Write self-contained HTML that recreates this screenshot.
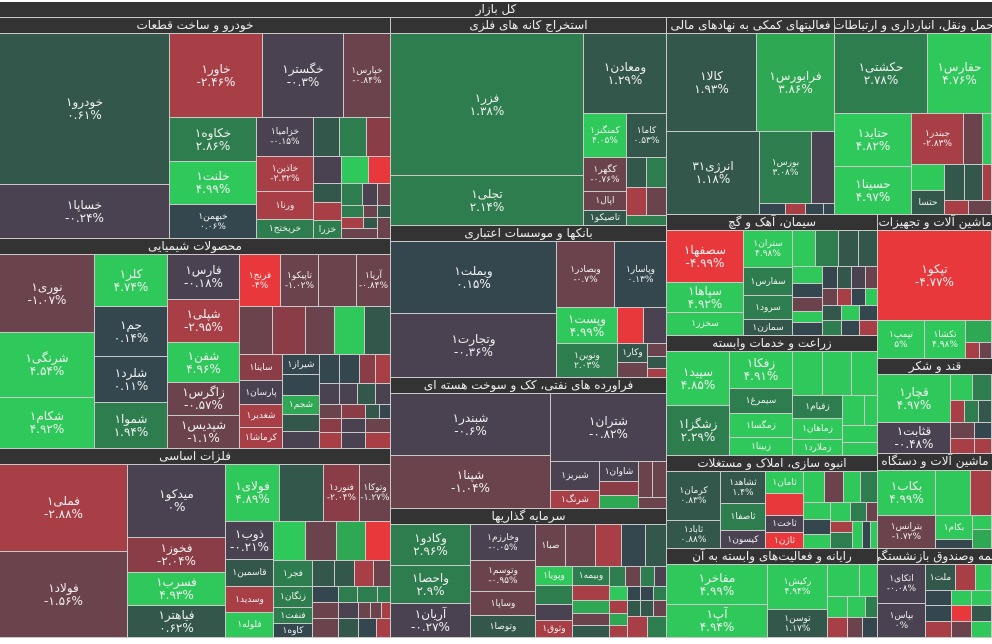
<!DOCTYPE html>
<html><head><meta charset="utf-8">
<style>
body{margin:0;background:#fff;}
#w{position:relative;width:992px;height:644px;background:#fff;overflow:hidden;font-family:"DejaVu Sans","Liberation Sans","Noto Sans CJK SC",sans-serif;}
.b{position:absolute;box-sizing:border-box;border-right:1px solid #c8c8c8;border-bottom:1px solid #c8c8c8;color:#f0f0f0;display:flex;flex-direction:column;align-items:center;justify-content:center;text-align:center;font-size:12px;line-height:13px;overflow:hidden;white-space:nowrap;}
.h{position:absolute;box-sizing:border-box;background:#333;color:#eee;border-right:1px solid #c8c8c8;border-bottom:1px solid #c8c8c8;font-size:12px;line-height:15px;display:flex;justify-content:center;overflow:hidden;white-space:nowrap;direction:rtl;}
.s10{font-size:9px;line-height:10px}
.g1{background:#33574b}.g2{background:#2e7d4f}.g3{background:#2ec95a}.g4{background:#2ea852}
.sl{background:#34474f}.p{background:#4a4250}.r1{background:#6a434c}.r2{background:#a83f47}.r3{background:#e8383b}.r4{background:#8a3d46}
</style></head><body><div id="w">
<div class="h" style="left:0;top:2px;width:992px;height:16px;border-right:0">کل بازار</div>

<!-- خودرو -->
<div class="h" style="left:0;top:18px;width:391px;height:16px">خودرو و ساخت قطعات</div>
<div class="b g1" style="left:0;top:34px;width:170px;height:151px"><span>خودرو۱</span><span>۰.۶۱%</span></div>
<div class="b p" style="left:0;top:185px;width:170px;height:54px"><span>خساپا۱</span><span>-۰.۲۴%</span></div>
<div class="b r2" style="left:170px;top:34px;width:93px;height:84px"><span>خاور۱</span><span>-۲.۴۶%</span></div>
<div class="b p" style="left:263px;top:34px;width:81px;height:84px"><span>خگستر۱</span><span>-۰.۳%</span></div>
<div class="b r1 s10" style="left:344px;top:34px;width:47px;height:84px"><span>خپارس۱</span><span>-۰.۸۴%</span></div>
<div class="b g2" style="left:170px;top:118px;width:87px;height:44px"><span>خکاوه۱</span><span>۲.۸۶%</span></div>
<div class="b g3" style="left:170px;top:162px;width:87px;height:43px"><span>خلنت۱</span><span>۴.۹۹%</span></div>
<div class="b sl s10" style="left:170px;top:205px;width:87px;height:34px"><span>خبهمن۱</span><span>۰.۰۶%</span></div>
<div class="b p s10" style="left:257px;top:118px;width:57px;height:39px"><span>خزامیا۱</span><span>-۰.۱۵%</span></div>
<div class="b r2 s10" style="left:257px;top:157px;width:57px;height:35px"><span>خاذین۱</span><span>-۲.۳۲%</span></div>
<div class="b r2 s10" style="left:257px;top:192px;width:57px;height:28px"><span>ورنا۱</span></div>
<div class="b g2 s10" style="left:257px;top:220px;width:57px;height:19px"><span>خریختج۱</span></div>
<div class="b g1" style="left:314px;top:118px;width:26px;height:39px"></div>
<div class="b g2" style="left:340px;top:118px;width:27px;height:39px"></div>
<div class="b r4" style="left:367px;top:118px;width:24px;height:39px"></div>
<div class="b p" style="left:314px;top:157px;width:28px;height:27px"></div>
<div class="b g3" style="left:342px;top:157px;width:27px;height:27px"></div>
<div class="b r3" style="left:369px;top:157px;width:22px;height:27px"></div>
<div class="b g1" style="left:314px;top:184px;width:28px;height:19px"></div>
<div class="b r2" style="left:314px;top:203px;width:28px;height:18px"></div>
<div class="b g2 s10" style="left:314px;top:221px;width:28px;height:18px">خزرا</div>
<div class="b g2" style="left:342px;top:184px;width:21px;height:22px"></div>
<div class="b p" style="left:363px;top:184px;width:15px;height:22px"></div>
<div class="b r1" style="left:378px;top:184px;width:13px;height:22px"></div>
<div class="b g2" style="left:342px;top:206px;width:22px;height:12px"></div>
<div class="b r1" style="left:364px;top:206px;width:14px;height:12px"></div>
<div class="b g1" style="left:378px;top:206px;width:13px;height:12px"></div>
<div class="b r2" style="left:342px;top:218px;width:22px;height:11px"></div>
<div class="b g1" style="left:364px;top:218px;width:14px;height:11px"></div>
<div class="b r1" style="left:378px;top:218px;width:13px;height:21px"></div>
<div class="b r1" style="left:342px;top:229px;width:36px;height:10px"></div>

<!-- شیمیایی -->
<div class="h" style="left:0;top:239px;width:391px;height:16px">محصولات شیمیایی</div>
<div class="b r1" style="left:0;top:255px;width:95px;height:78px"><span>نوری۱</span><span>-۱.۰۷%</span></div>
<div class="b g3" style="left:0;top:333px;width:95px;height:65px"><span>شرنگی۱</span><span>۴.۵۴%</span></div>
<div class="b g3" style="left:0;top:398px;width:95px;height:51px"><span>شکام۱</span><span>۴.۹۲%</span></div>
<div class="b g3" style="left:95px;top:255px;width:73px;height:52px"><span>کلر۱</span><span>۴.۷۴%</span></div>
<div class="b sl" style="left:95px;top:307px;width:73px;height:50px"><span>جم۱</span><span>۰.۱۴%</span></div>
<div class="b sl" style="left:95px;top:357px;width:73px;height:46px"><span>شلرد۱</span><span>۰.۱۱%</span></div>
<div class="b g2" style="left:95px;top:403px;width:73px;height:46px"><span>شموا۱</span><span>۱.۹۴%</span></div>
<div class="b p" style="left:168px;top:255px;width:72px;height:45px"><span>فارس۱</span><span>-۰.۱۸%</span></div>
<div class="b r2" style="left:168px;top:300px;width:72px;height:43px"><span>شپلی۱</span><span>-۲.۹۵%</span></div>
<div class="b g3" style="left:168px;top:343px;width:72px;height:40px"><span>شفن۱</span><span>۴.۹۶%</span></div>
<div class="b r1" style="left:168px;top:383px;width:72px;height:33px"><span>زاگرس۱</span><span>-۰.۵۷%</span></div>
<div class="b r1" style="left:168px;top:416px;width:72px;height:33px"><span>شپدیس۱</span><span>-۱.۱%</span></div>
<div class="b r3 s10" style="left:240px;top:255px;width:41px;height:52px"><span>فرنج۱</span><span>-۴%</span></div>
<div class="b r1 s10" style="left:281px;top:255px;width:38px;height:52px"><span>تاپیکو۱</span><span>-۱.۰۲%</span></div>
<div class="b r1" style="left:319px;top:255px;width:38px;height:52px"></div>
<div class="b r1 s10" style="left:357px;top:255px;width:34px;height:52px"><span>آریا۱</span><span>-۰.۸۴%</span></div>
<div class="b r1" style="left:240px;top:307px;width:33px;height:48px"></div>
<div class="b r4" style="left:273px;top:307px;width:33px;height:48px"></div>
<div class="b r1" style="left:306px;top:307px;width:29px;height:48px"></div>
<div class="b g3" style="left:335px;top:307px;width:30px;height:48px"></div>
<div class="b g1" style="left:365px;top:307px;width:26px;height:48px"></div>
<div class="b r4 s10" style="left:240px;top:355px;width:43px;height:26px">ساینا۱</div>
<div class="b p s10" style="left:240px;top:381px;width:43px;height:24px">پارسان۱</div>
<div class="b r2 s10" style="left:240px;top:405px;width:43px;height:23px">شغدیر۱</div>
<div class="b r2 s10" style="left:240px;top:428px;width:43px;height:21px">کرماشا۱</div>
<div class="b sl s10" style="left:283px;top:355px;width:37px;height:20px">شیراز۱</div>
<div class="b sl" style="left:283px;top:375px;width:37px;height:21px"></div>
<div class="b g4 s10" style="left:283px;top:396px;width:37px;height:19px">شجم۱</div>
<div class="b g1" style="left:283px;top:415px;width:37px;height:17px"></div>
<div class="b p" style="left:283px;top:432px;width:37px;height:17px"></div>
<div class="b sl" style="left:320px;top:355px;width:20px;height:29px"></div>
<div class="b sl" style="left:340px;top:355px;width:20px;height:29px"></div>
<div class="b r4" style="left:360px;top:355px;width:16px;height:29px"></div>
<div class="b r2" style="left:376px;top:355px;width:15px;height:29px"></div>
<div class="b p" style="left:320px;top:384px;width:20px;height:21px"></div>
<div class="b p" style="left:340px;top:384px;width:18px;height:21px"></div>
<div class="b g1" style="left:358px;top:384px;width:18px;height:21px"></div>
<div class="b p" style="left:376px;top:384px;width:15px;height:21px"></div>
<div class="b r1" style="left:320px;top:405px;width:22px;height:14px"></div>
<div class="b r4" style="left:342px;top:405px;width:24px;height:14px"></div>
<div class="b g1" style="left:366px;top:405px;width:14px;height:14px"></div>
<div class="b sl" style="left:380px;top:405px;width:11px;height:14px"></div>
<div class="b r4" style="left:320px;top:419px;width:22px;height:14px"></div>
<div class="b p" style="left:342px;top:419px;width:24px;height:14px"></div>
<div class="b r1" style="left:366px;top:419px;width:25px;height:14px"></div>
<div class="b r2" style="left:320px;top:433px;width:22px;height:16px"></div>
<div class="b p" style="left:342px;top:433px;width:24px;height:16px"></div>
<div class="b r2" style="left:366px;top:433px;width:25px;height:16px"></div>

<!-- فلزات -->
<div class="h" style="left:0;top:449px;width:391px;height:16px">فلزات اساسی</div>
<div class="b r2" style="left:0;top:465px;width:128px;height:87px"><span>فملی۱</span><span>-۲.۸۸%</span></div>
<div class="b r1" style="left:0;top:552px;width:128px;height:86px"><span>فولاد۱</span><span>-۱.۵۶%</span></div>
<div class="b p" style="left:128px;top:465px;width:98px;height:73px"><span>میدکو۱</span><span>۰%</span></div>
<div class="b r4" style="left:128px;top:538px;width:98px;height:35px"><span>فخوز۱</span><span>-۲.۰۴%</span></div>
<div class="b g3" style="left:128px;top:573px;width:98px;height:33px"><span>فسرب۱</span><span>۴.۹۳%</span></div>
<div class="b g1" style="left:128px;top:606px;width:98px;height:32px"><span>فیاهتر۱</span><span>۰.۶۲%</span></div>
<div class="b g3" style="left:226px;top:465px;width:54px;height:57px"><span>فولای۱</span><span>۴.۸۹%</span></div>
<div class="b g1" style="left:280px;top:465px;width:44px;height:57px"></div>
<div class="b r4 s10" style="left:324px;top:465px;width:36px;height:57px"><span>فنورد۱</span><span>-۲.۰۴%</span></div>
<div class="b r1 s10" style="left:360px;top:465px;width:31px;height:57px"><span>وتوکا۱</span><span>-۱.۲۷%</span></div>
<div class="b p" style="left:226px;top:522px;width:48px;height:38px"><span>ذوب۱</span><span>-۰.۲۱%</span></div>
<div class="b g1 s10" style="left:226px;top:560px;width:48px;height:27px">قاسمین۱</div>
<div class="b r2 s10" style="left:226px;top:587px;width:48px;height:26px">وسدید۱</div>
<div class="b g3 s10" style="left:226px;top:613px;width:48px;height:25px">فلوله۱</div>
<div class="b g3" style="left:274px;top:522px;width:32px;height:39px"></div>
<div class="b r1" style="left:306px;top:522px;width:31px;height:39px"></div>
<div class="b g4" style="left:337px;top:522px;width:29px;height:39px"></div>
<div class="b r3" style="left:366px;top:522px;width:25px;height:39px"></div>
<div class="b g2 s10" style="left:274px;top:561px;width:39px;height:26px">فجر۱</div>
<div class="b g2 s10" style="left:274px;top:587px;width:39px;height:21px">زنگان۱</div>
<div class="b g2 s10" style="left:274px;top:608px;width:39px;height:16px">فنفت۱</div>
<div class="b sl s10" style="left:274px;top:624px;width:39px;height:14px">کاوه۱</div>
<div class="b g1" style="left:313px;top:561px;width:22px;height:26px"></div>
<div class="b g1" style="left:335px;top:561px;width:20px;height:26px"></div>
<div class="b r2" style="left:355px;top:561px;width:19px;height:26px"></div>
<div class="b r1" style="left:374px;top:561px;width:17px;height:26px"></div>
<div class="b sl" style="left:313px;top:587px;width:26px;height:16px"></div>
<div class="b g2" style="left:339px;top:587px;width:19px;height:16px"></div>
<div class="b g2" style="left:358px;top:587px;width:20px;height:16px"></div>
<div class="b g2" style="left:378px;top:587px;width:13px;height:16px"></div>
<div class="b r1" style="left:313px;top:603px;width:26px;height:16px"></div>
<div class="b p" style="left:339px;top:603px;width:20px;height:16px"></div>
<div class="b r1" style="left:359px;top:603px;width:12px;height:16px"></div>
<div class="b r1" style="left:371px;top:603px;width:11px;height:16px"></div>
<div class="b r2" style="left:382px;top:603px;width:9px;height:16px"></div>
<div class="b r1" style="left:313px;top:619px;width:26px;height:19px"></div>
<div class="b g1" style="left:339px;top:619px;width:20px;height:19px"></div>
<div class="b sl" style="left:359px;top:619px;width:18px;height:19px"></div>
<div class="b r2" style="left:377px;top:619px;width:14px;height:19px"></div>

<!-- استخراج -->
<div class="h" style="left:391px;top:18px;width:276px;height:16px">استخراج کانه های فلزی</div>
<div class="b g2" style="left:391px;top:34px;width:193px;height:142px"><span>فزر۱</span><span>۱.۳۸%</span></div>
<div class="b g2" style="left:391px;top:176px;width:193px;height:50px"><span>تجلی۱</span><span>۲.۱۴%</span></div>
<div class="b g1" style="left:584px;top:34px;width:83px;height:80px"><span>ومعادن۱</span><span>۱.۲۹%</span></div>
<div class="b g3 s10" style="left:584px;top:114px;width:43px;height:44px"><span>کمنگنز۱</span><span>۴.۰۵%</span></div>
<div class="b g1 s10" style="left:627px;top:114px;width:40px;height:44px"><span>کاما۱</span><span>۰.۵۳%</span></div>
<div class="b r1 s10" style="left:584px;top:158px;width:43px;height:34px"><span>کگهر۱</span><span>-۰.۷۶%</span></div>
<div class="b r1 s10" style="left:584px;top:192px;width:43px;height:19px">اپال۱</div>
<div class="b g1 s10" style="left:584px;top:211px;width:43px;height:15px">تاصیکو۱</div>
<div class="b g1" style="left:627px;top:158px;width:20px;height:30px"></div>
<div class="b g2" style="left:647px;top:158px;width:20px;height:30px"></div>
<div class="b r2" style="left:627px;top:188px;width:20px;height:28px"></div>
<div class="b r1" style="left:647px;top:188px;width:20px;height:28px"></div>
<div class="b g2" style="left:627px;top:216px;width:40px;height:10px"></div>

<!-- بانکها -->
<div class="h" style="left:391px;top:226px;width:276px;height:16px">بانکها و موسسات اعتباری</div>
<div class="b sl" style="left:391px;top:242px;width:166px;height:72px"><span>وبملت۱</span><span>۰.۱۵%</span></div>
<div class="b p" style="left:391px;top:314px;width:166px;height:64px"><span>وتجارت۱</span><span>-۰.۳۶%</span></div>
<div class="b r1 s10" style="left:557px;top:242px;width:58px;height:66px"><span>وبصادر۱</span><span>-۰.۷%</span></div>
<div class="b sl s10" style="left:615px;top:242px;width:52px;height:66px"><span>وپاسار۱</span><span>۰.۱۳%</span></div>
<div class="b g3" style="left:557px;top:308px;width:61px;height:36px"><span>وپست۱</span><span>۴.۹۹%</span></div>
<div class="b g2 s10" style="left:557px;top:344px;width:61px;height:34px"><span>ونوین۱</span><span>۲.۰۳%</span></div>
<div class="b r3" style="left:618px;top:308px;width:26px;height:36px"></div>
<div class="b p" style="left:644px;top:308px;width:23px;height:36px"></div>
<div class="b g1 s10" style="left:618px;top:344px;width:30px;height:19px">وکار۱</div>
<div class="b r1" style="left:618px;top:363px;width:30px;height:15px"></div>
<div class="b r1" style="left:648px;top:344px;width:19px;height:13px"></div>
<div class="b g1" style="left:648px;top:357px;width:19px;height:12px"></div>
<div class="b r2" style="left:648px;top:369px;width:19px;height:9px"></div>

<!-- پالایش -->
<div class="h" style="left:391px;top:378px;width:276px;height:16px">فراورده های نفتی، کک و سوخت هسته ای</div>
<div class="b p" style="left:391px;top:394px;width:160px;height:62px"><span>شبندر۱</span><span>-۰.۶%</span></div>
<div class="b r1" style="left:391px;top:456px;width:160px;height:53px"><span>شپنا۱</span><span>-۱.۰۴%</span></div>
<div class="b p" style="left:551px;top:394px;width:116px;height:68px"><span>شتران۱</span><span>-۰.۸۲%</span></div>
<div class="b p s10" style="left:551px;top:462px;width:49px;height:29px">شبریز۱</div>
<div class="b r2 s10" style="left:551px;top:491px;width:49px;height:18px">شرنگ۱</div>
<div class="b p s10" style="left:600px;top:462px;width:39px;height:20px">شاوان۱</div>
<div class="b r4" style="left:600px;top:482px;width:39px;height:14px"></div>
<div class="b g4" style="left:600px;top:496px;width:39px;height:13px"></div>
<div class="b r1" style="left:639px;top:462px;width:14px;height:36px"></div>
<div class="b r1" style="left:653px;top:462px;width:14px;height:36px"></div>
<div class="b r1" style="left:639px;top:498px;width:28px;height:11px"></div>

<!-- سرمایه -->
<div class="h" style="left:391px;top:509px;width:276px;height:16px">سرمایه گذاریها</div>
<div class="b g2" style="left:391px;top:525px;width:80px;height:41px"><span>وکادو۱</span><span>۲.۹۶%</span></div>
<div class="b g2" style="left:391px;top:566px;width:80px;height:38px"><span>واحصا۱</span><span>۲.۹%</span></div>
<div class="b p" style="left:391px;top:604px;width:80px;height:34px"><span>آریان۱</span><span>-۰.۲۷%</span></div>
<div class="b p s10" style="left:471px;top:525px;width:65px;height:36px"><span>وخارزم۱</span><span>-۰.۰۵%</span></div>
<div class="b r1 s10" style="left:471px;top:561px;width:65px;height:31px"><span>وتوسم۱</span><span>-۰.۹۵%</span></div>
<div class="b r1 s10" style="left:471px;top:592px;width:65px;height:24px">وساپا۱</div>
<div class="b g1 s10" style="left:471px;top:616px;width:65px;height:22px">وتوصا۱</div>
<div class="b r1 s10" style="left:536px;top:525px;width:30px;height:42px"><span>صبا۱</span></div>
<div class="b r1" style="left:566px;top:525px;width:30px;height:42px"></div>
<div class="b r2" style="left:596px;top:525px;width:26px;height:42px"></div>
<div class="b sl" style="left:622px;top:525px;width:24px;height:42px"></div>
<div class="b g1" style="left:646px;top:525px;width:21px;height:42px"></div>
<div class="b g3 s10" style="left:536px;top:567px;width:37px;height:19px">وپویا۱</div>
<div class="b g2 s10" style="left:573px;top:567px;width:37px;height:19px">وبیمه۱</div>
<div class="b g2" style="left:536px;top:586px;width:37px;height:19px"></div>
<div class="b p" style="left:536px;top:605px;width:37px;height:16px"></div>
<div class="b r2 s10" style="left:536px;top:621px;width:37px;height:17px">وثوق۱</div>
<div class="b r2" style="left:573px;top:586px;width:37px;height:15px"></div>
<div class="b g4" style="left:573px;top:601px;width:37px;height:13px"></div>
<div class="b r1" style="left:573px;top:614px;width:37px;height:12px"></div>
<div class="b g1" style="left:573px;top:626px;width:37px;height:12px"></div>
<div class="b g2" style="left:610px;top:567px;width:16px;height:20px"></div>
<div class="b r1" style="left:626px;top:567px;width:15px;height:20px"></div>
<div class="b g2" style="left:641px;top:567px;width:14px;height:20px"></div>
<div class="b p" style="left:655px;top:567px;width:12px;height:20px"></div>
<div class="b g3" style="left:610px;top:587px;width:18px;height:14px"></div>
<div class="b sl" style="left:628px;top:587px;width:13px;height:14px"></div>
<div class="b sl" style="left:641px;top:587px;width:13px;height:14px"></div>
<div class="b g2" style="left:654px;top:587px;width:13px;height:14px"></div>
<div class="b r2" style="left:610px;top:601px;width:18px;height:13px"></div>
<div class="b g4" style="left:610px;top:614px;width:18px;height:12px"></div>
<div class="b r2" style="left:610px;top:626px;width:18px;height:12px"></div>
<div class="b g1" style="left:628px;top:601px;width:13px;height:16px"></div>
<div class="b g1" style="left:641px;top:601px;width:13px;height:16px"></div>
<div class="b r1" style="left:654px;top:601px;width:13px;height:16px"></div>
<div class="b r2" style="left:628px;top:617px;width:20px;height:21px"></div>
<div class="b g2" style="left:648px;top:617px;width:19px;height:21px"></div>

<!-- فعالیتهای کمکی -->
<div class="h" style="left:667px;top:18px;width:168px;height:16px">فعالیتهای کمکی به نهادهای مالی</div>
<div class="b g1" style="left:667px;top:34px;width:90px;height:98px"><span>کالا۱</span><span>۱.۹۳%</span></div>
<div class="b g4" style="left:757px;top:34px;width:78px;height:98px"><span>فرابورس۱</span><span>۳.۸۶%</span></div>
<div class="b g1" style="left:667px;top:132px;width:93px;height:83px"><span>انرژی۳۱</span><span>۱.۱۸%</span></div>
<div class="b g2 s10" style="left:760px;top:132px;width:52px;height:72px"><span>بورس۱</span><span>۳.۰۸%</span></div>
<div class="b p" style="left:812px;top:132px;width:23px;height:72px"></div>
<div class="b sl" style="left:760px;top:204px;width:26px;height:11px"></div>
<div class="b r2" style="left:786px;top:204px;width:20px;height:11px"></div>
<div class="b sl" style="left:806px;top:204px;width:18px;height:11px"></div>
<div class="b sl" style="left:824px;top:204px;width:11px;height:11px"></div>

<!-- حمل -->
<div class="h" style="left:835px;top:18px;width:157px;height:16px;border-right:0">حمل ونقل، انبارداری و ارتباطات</div>
<div class="b g2" style="left:835px;top:34px;width:93px;height:80px"><span>حکشتی۱</span><span>۲.۷۸%</span></div>
<div class="b g3" style="left:928px;top:34px;width:64px;height:80px"><span>حفارس۱</span><span>۴.۷۶%</span></div>
<div class="b g3" style="left:835px;top:114px;width:77px;height:53px"><span>حتاید۱</span><span>۴.۸۲%</span></div>
<div class="b g3" style="left:835px;top:167px;width:77px;height:48px"><span>حسینا۱</span><span>۴.۹۷%</span></div>
<div class="b r2 s10" style="left:912px;top:114px;width:52px;height:51px"><span>جبندر۱</span><span>-۲.۸۳%</span></div>
<div class="b r1" style="left:964px;top:114px;width:19px;height:51px"></div>
<div class="b g3" style="left:983px;top:114px;width:9px;height:51px"></div>
<div class="b g3" style="left:912px;top:165px;width:33px;height:26px"></div>
<div class="b g1 s10" style="left:912px;top:191px;width:33px;height:24px">حتسا</div>
<div class="b g1" style="left:945px;top:165px;width:20px;height:36px"></div>
<div class="b g1" style="left:965px;top:165px;width:18px;height:36px"></div>
<div class="b r2" style="left:983px;top:165px;width:9px;height:36px"></div>
<div class="b r2" style="left:945px;top:201px;width:24px;height:14px"></div>
<div class="b r1" style="left:969px;top:201px;width:23px;height:14px"></div>

<!-- سیمان -->
<div class="h" style="left:667px;top:215px;width:211px;height:16px">سیمان، آهک و گچ</div>
<div class="b r3" style="left:667px;top:231px;width:77px;height:52px"><span>سصفها۱</span><span>-۴.۹۹%</span></div>
<div class="b g3" style="left:667px;top:283px;width:77px;height:30px"><span>سپاها۱</span><span>۴.۹۲%</span></div>
<div class="b g3 s10" style="left:667px;top:313px;width:77px;height:23px">سخزر۱</div>
<div class="b g3 s10" style="left:744px;top:231px;width:49px;height:37px"><span>ستران۱</span><span>۴.۹۸%</span></div>
<div class="b g2 s10" style="left:744px;top:268px;width:49px;height:28px">سفارس۱</div>
<div class="b g2 s10" style="left:744px;top:296px;width:49px;height:24px">سرود۱</div>
<div class="b g1 s10" style="left:744px;top:320px;width:49px;height:16px">سمازن۱</div>
<div class="b g3" style="left:793px;top:231px;width:23px;height:36px"></div>
<div class="b g2" style="left:816px;top:231px;width:23px;height:36px"></div>
<div class="b g1" style="left:839px;top:231px;width:20px;height:36px"></div>
<div class="b g1" style="left:859px;top:231px;width:19px;height:36px"></div>
<div class="b g3" style="left:793px;top:267px;width:30px;height:17px"></div>
<div class="b sl" style="left:793px;top:284px;width:30px;height:14px"></div>
<div class="b r1" style="left:793px;top:298px;width:30px;height:14px"></div>
<div class="b g3" style="left:793px;top:312px;width:30px;height:11px"></div>
<div class="b sl" style="left:793px;top:323px;width:30px;height:13px"></div>
<div class="b sl" style="left:823px;top:267px;width:15px;height:22px"></div>
<div class="b g1" style="left:838px;top:267px;width:14px;height:22px"></div>
<div class="b p" style="left:852px;top:267px;width:14px;height:22px"></div>
<div class="b r1" style="left:866px;top:267px;width:12px;height:22px"></div>
<div class="b r1" style="left:823px;top:289px;width:15px;height:17px"></div>
<div class="b r2" style="left:838px;top:289px;width:14px;height:17px"></div>
<div class="b sl" style="left:852px;top:289px;width:14px;height:17px"></div>
<div class="b g3" style="left:866px;top:289px;width:12px;height:17px"></div>
<div class="b g1" style="left:823px;top:306px;width:19px;height:15px"></div>
<div class="b g3" style="left:842px;top:306px;width:18px;height:15px"></div>
<div class="b sl" style="left:860px;top:306px;width:18px;height:15px"></div>
<div class="b g2" style="left:823px;top:321px;width:19px;height:15px"></div>
<div class="b sl" style="left:842px;top:321px;width:18px;height:15px"></div>
<div class="b r2" style="left:860px;top:321px;width:18px;height:15px"></div>

<!-- زراعت -->
<div class="h" style="left:667px;top:336px;width:211px;height:16px">زراعت و خدمات وابسته</div>
<div class="b g3" style="left:667px;top:352px;width:63px;height:54px"><span>سپید۱</span><span>۴.۸۵%</span></div>
<div class="b g2" style="left:667px;top:406px;width:63px;height:50px"><span>زشگزا۱</span><span>۲.۲۹%</span></div>
<div class="b g3" style="left:730px;top:352px;width:63px;height:37px"><span>زفکا۱</span><span>۴.۹۱%</span></div>
<div class="b g2 s10" style="left:730px;top:389px;width:63px;height:25px">سیمرغ۱</div>
<div class="b g3 s10" style="left:730px;top:414px;width:63px;height:24px">زمگسا۱</div>
<div class="b g3 s10" style="left:730px;top:438px;width:63px;height:18px">زبینا۱</div>
<div class="b g3" style="left:793px;top:352px;width:30px;height:44px"></div>
<div class="b g3" style="left:823px;top:352px;width:29px;height:44px"></div>
<div class="b g3" style="left:852px;top:352px;width:26px;height:44px"></div>
<div class="b g2 s10" style="left:793px;top:396px;width:50px;height:23px">زقیام۱</div>
<div class="b g3 s10" style="left:793px;top:419px;width:50px;height:21px">زماهان۱</div>
<div class="b g3 s10" style="left:793px;top:440px;width:50px;height:16px">زملارد۱</div>
<div class="b g3" style="left:843px;top:396px;width:22px;height:30px"></div>
<div class="b g3" style="left:865px;top:396px;width:13px;height:30px"></div>
<div class="b g3" style="left:843px;top:426px;width:35px;height:17px"></div>
<div class="b g3" style="left:843px;top:443px;width:35px;height:13px"></div>

<!-- ماشین آلات و تجهیزات -->
<div class="h" style="left:878px;top:215px;width:114px;height:16px;border-right:0">ماشین آلات و تجهیزات</div>
<div class="b r3" style="left:878px;top:231px;width:114px;height:90px"><span>تپکو۱</span><span>-۴.۷۷%</span></div>
<div class="b g3 s10" style="left:878px;top:321px;width:47px;height:38px"><span>تپمپ۱</span><span>۵%</span></div>
<div class="b g3 s10" style="left:925px;top:321px;width:41px;height:38px"><span>تکشا۱</span><span>۴.۹۸%</span></div>
<div class="b g4" style="left:966px;top:321px;width:26px;height:22px"></div>
<div class="b r2" style="left:966px;top:343px;width:14px;height:16px"></div>
<div class="b r1" style="left:980px;top:343px;width:12px;height:16px"></div>

<!-- قند -->
<div class="h" style="left:878px;top:359px;width:114px;height:16px;border-right:0">قند و شکر</div>
<div class="b g3" style="left:878px;top:375px;width:73px;height:48px"><span>قچار۱</span><span>۴.۹۷%</span></div>
<div class="b p" style="left:878px;top:423px;width:73px;height:31px"><span>قثابت۱</span><span>-۰.۴۸%</span></div>
<div class="b g3" style="left:951px;top:375px;width:22px;height:26px"></div>
<div class="b g2" style="left:973px;top:375px;width:19px;height:26px"></div>
<div class="b r2" style="left:951px;top:401px;width:14px;height:22px"></div>
<div class="b g2" style="left:965px;top:401px;width:14px;height:22px"></div>
<div class="b g1" style="left:979px;top:401px;width:13px;height:22px"></div>
<div class="b r1" style="left:951px;top:423px;width:24px;height:16px"></div>
<div class="b sl" style="left:975px;top:423px;width:17px;height:16px"></div>
<div class="b r2" style="left:951px;top:439px;width:24px;height:15px"></div>
<div class="b r2" style="left:975px;top:439px;width:17px;height:15px"></div>

<!-- انبوه سازی -->
<div class="h" style="left:667px;top:456px;width:211px;height:16px">انبوه سازی، املاک و مستغلات</div>
<div class="b g1 s10" style="left:667px;top:472px;width:54px;height:49px"><span>کرمان۱</span><span>۰.۸۳%</span></div>
<div class="b g1 s10" style="left:667px;top:521px;width:54px;height:28px"><span>ثاباد۱</span><span>۰.۸۸%</span></div>
<div class="b g1 s10" style="left:721px;top:472px;width:45px;height:32px"><span>ثشاهد۱</span><span>۱.۴%</span></div>
<div class="b g2 s10" style="left:721px;top:504px;width:45px;height:27px">ثاصفا۱</div>
<div class="b p s10" style="left:721px;top:531px;width:45px;height:18px">کیسون۱</div>
<div class="b g3 s10" style="left:766px;top:472px;width:38px;height:22px">ثامان۱</div>
<div class="b r3" style="left:766px;top:494px;width:38px;height:22px"></div>
<div class="b p s10" style="left:766px;top:516px;width:38px;height:17px">ثاخت۱</div>
<div class="b r3 s10" style="left:766px;top:533px;width:38px;height:16px">ثاژن۱</div>
<div class="b g3" style="left:804px;top:472px;width:21px;height:31px"></div>
<div class="b r1" style="left:825px;top:472px;width:19px;height:31px"></div>
<div class="b g3" style="left:844px;top:472px;width:17px;height:31px"></div>
<div class="b g2" style="left:861px;top:472px;width:17px;height:31px"></div>
<div class="b g3" style="left:804px;top:503px;width:27px;height:17px"></div>
<div class="b sl" style="left:804px;top:520px;width:27px;height:15px"></div>
<div class="b g3" style="left:804px;top:535px;width:27px;height:14px"></div>
<div class="b g3" style="left:831px;top:503px;width:20px;height:19px"></div>
<div class="b g2" style="left:851px;top:503px;width:16px;height:19px"></div>
<div class="b r1" style="left:867px;top:503px;width:11px;height:19px"></div>
<div class="b r2" style="left:831px;top:522px;width:22px;height:11px"></div>
<div class="b g2" style="left:831px;top:533px;width:22px;height:16px"></div>
<div class="b g3" style="left:853px;top:522px;width:10px;height:27px"></div>
<div class="b sl" style="left:863px;top:522px;width:8px;height:27px"></div>
<div class="b g3" style="left:871px;top:522px;width:7px;height:27px"></div>

<!-- رایانه -->
<div class="h" style="left:667px;top:549px;width:211px;height:16px">رایانه و فعالیت‌های وابسته به آن</div>
<div class="b g3" style="left:667px;top:565px;width:101px;height:40px"><span>مفاخر۱</span><span>۴.۹۹%</span></div>
<div class="b g3" style="left:667px;top:605px;width:101px;height:33px"><span>آپ۱</span><span>۴.۹۴%</span></div>
<div class="b g3 s10" style="left:768px;top:565px;width:60px;height:45px"><span>رکیش۱</span><span>۴.۹۴%</span></div>
<div class="b g1 s10" style="left:768px;top:610px;width:60px;height:28px"><span>توسن۱</span><span>۱.۱۷%</span></div>
<div class="b g3" style="left:828px;top:565px;width:32px;height:32px"></div>
<div class="b g3" style="left:860px;top:565px;width:18px;height:32px"></div>
<div class="b g3" style="left:828px;top:597px;width:20px;height:21px"></div>
<div class="b g3" style="left:848px;top:597px;width:18px;height:21px"></div>
<div class="b g2" style="left:866px;top:597px;width:12px;height:21px"></div>
<div class="b r2" style="left:828px;top:618px;width:20px;height:20px"></div>
<div class="b r1" style="left:848px;top:618px;width:15px;height:20px"></div>
<div class="b sl" style="left:863px;top:618px;width:15px;height:20px"></div>

<!-- ماشین آلات و دستگاه -->
<div class="h" style="left:878px;top:454px;width:114px;height:17px;border-right:0">ماشین آلات و دستگاه</div>
<div class="b g3" style="left:878px;top:471px;width:58px;height:45px"><span>بکاب۱</span><span>۴.۹۹%</span></div>
<div class="b g3" style="left:936px;top:471px;width:35px;height:45px"></div>
<div class="b r2" style="left:971px;top:471px;width:21px;height:45px"></div>
<div class="b r1 s10" style="left:878px;top:516px;width:58px;height:33px"><span>بترانس۱</span><span>-۱.۷۲%</span></div>
<div class="b g3 s10" style="left:936px;top:516px;width:37px;height:24px">بکام۱</div>
<div class="b sl" style="left:936px;top:540px;width:37px;height:9px"></div>
<div class="b g3" style="left:973px;top:516px;width:19px;height:14px"></div>
<div class="b g4" style="left:973px;top:530px;width:19px;height:19px"></div>

<!-- بیمه -->
<div class="h" style="left:878px;top:549px;width:114px;height:16px;border-right:0">بیمه وصندوق بازنشستگی</div>
<div class="b p s10" style="left:878px;top:565px;width:48px;height:39px"><span>اتکای۱</span><span>-۰.۰۸%</span></div>
<div class="b p s10" style="left:878px;top:604px;width:48px;height:34px"><span>بپاس۱</span><span>۰%</span></div>
<div class="b g1 s10" style="left:926px;top:565px;width:30px;height:26px">ملت۱</div>
<div class="b r2" style="left:956px;top:565px;width:20px;height:26px"></div>
<div class="b g3" style="left:976px;top:565px;width:16px;height:26px"></div>
<div class="b sl" style="left:926px;top:591px;width:26px;height:15px"></div>
<div class="b g3" style="left:952px;top:591px;width:20px;height:15px"></div>
<div class="b g3" style="left:972px;top:591px;width:20px;height:15px"></div>
<div class="b sl" style="left:926px;top:606px;width:26px;height:16px"></div>
<div class="b r3" style="left:952px;top:606px;width:20px;height:16px"></div>
<div class="b g1" style="left:972px;top:606px;width:20px;height:16px"></div>
<div class="b r2" style="left:926px;top:622px;width:26px;height:16px"></div>
<div class="b r1" style="left:952px;top:622px;width:20px;height:16px"></div>
<div class="b g3" style="left:972px;top:622px;width:20px;height:16px"></div>
</div></body></html>
